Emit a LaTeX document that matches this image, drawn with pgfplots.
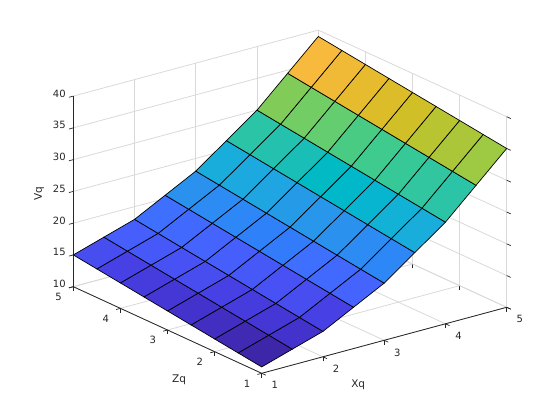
\documentclass[border=0pt]{standalone}
\usepackage{pgfplots}
\usepackage{fontspec}
\setmainfont{DejaVu Sans}
\pgfplotsset{compat=1.18}
\definecolor{axc}{rgb}{0.15,0.15,0.15}
\definecolor{gridc}{rgb}{0.85,0.85,0.85}
\pgfplotsset{colormap={parula}{
rgb=(0.2422,0.1504,0.6603) rgb=(0.2504,0.1650,0.7076) rgb=(0.2578,0.1818,0.7511) rgb=(0.2647,0.1978,0.7952)
rgb=(0.2706,0.2147,0.8364) rgb=(0.2751,0.2342,0.8710) rgb=(0.2783,0.2559,0.8991) rgb=(0.2803,0.2782,0.9221)
rgb=(0.2813,0.3006,0.9414) rgb=(0.2810,0.3228,0.9579) rgb=(0.2795,0.3447,0.9717) rgb=(0.2760,0.3667,0.9829)
rgb=(0.2699,0.3892,0.9906) rgb=(0.2602,0.4123,0.9952) rgb=(0.2440,0.4358,0.9988) rgb=(0.2206,0.4603,0.9973)
rgb=(0.1963,0.4847,0.9892) rgb=(0.1834,0.5074,0.9798) rgb=(0.1786,0.5289,0.9682) rgb=(0.1764,0.5499,0.9520)
rgb=(0.1687,0.5703,0.9359) rgb=(0.1540,0.5902,0.9218) rgb=(0.1460,0.6091,0.9079) rgb=(0.1380,0.6276,0.8973)
rgb=(0.1248,0.6459,0.8883) rgb=(0.1113,0.6635,0.8763) rgb=(0.0952,0.6798,0.8598) rgb=(0.0689,0.6948,0.8394)
rgb=(0.0297,0.7082,0.8163) rgb=(0.0036,0.7203,0.7917) rgb=(0.0067,0.7312,0.7660) rgb=(0.0433,0.7411,0.7394)
rgb=(0.0964,0.7500,0.7120) rgb=(0.1408,0.7584,0.6842) rgb=(0.1717,0.7670,0.6554) rgb=(0.1938,0.7758,0.6251)
rgb=(0.2161,0.7843,0.5923) rgb=(0.2470,0.7918,0.5567) rgb=(0.2906,0.7973,0.5188) rgb=(0.3406,0.8008,0.4789)
rgb=(0.3909,0.8029,0.4354) rgb=(0.4456,0.8024,0.3909) rgb=(0.5044,0.7993,0.3480) rgb=(0.5616,0.7942,0.3045)
rgb=(0.6174,0.7876,0.2612) rgb=(0.6720,0.7793,0.2227) rgb=(0.7242,0.7698,0.1910) rgb=(0.7738,0.7598,0.1646)
rgb=(0.8203,0.7498,0.1535) rgb=(0.8634,0.7406,0.1596) rgb=(0.9035,0.7330,0.1774) rgb=(0.9393,0.7288,0.2100)
rgb=(0.9728,0.7298,0.2394) rgb=(0.9956,0.7434,0.2371) rgb=(0.9970,0.7659,0.2199) rgb=(0.9952,0.7893,0.2028)
rgb=(0.9892,0.8136,0.1885) rgb=(0.9786,0.8386,0.1766) rgb=(0.9676,0.8639,0.1643) rgb=(0.9610,0.8890,0.1537)
rgb=(0.9597,0.9135,0.1423) rgb=(0.9628,0.9373,0.1265) rgb=(0.9691,0.9606,0.1064) rgb=(0.9769,0.9839,0.0805)
}}
\begin{document}
\begin{tikzpicture}[x=1pt,y=1pt]
\path[use as bounding box] (0,0) rectangle (560,420);
\begin{axis}[
  at={(73.3pt,46.7pt)}, anchor=south west,
  x={(61.25pt,16.5pt)}, y={(-47.1pt,21.65pt)}, z={(0pt,6.353pt)},
  xmin=1,xmax=5,ymin=1,ymax=5,zmin=10,zmax=40,
  xtick={1,2,3,4,5}, ytick={1,2,3,4,5}, ztick={10,15,20,25,30,35,40},
  xlabel={Xq}, ylabel={Zq}, zlabel={Vq},
  grid=major,
  major grid style={gridc,line width=0.8pt},
  axis line style={draw=none},
  tick align=outside,
  xtick pos=left, ytick pos=left, ztick pos=left,
  major tick length=4.5pt,
  tick style={axc,line width=0.7pt},
  /pgf/number format/assume math mode=true,
  tick label style={font=\fontsize{10}{12}\selectfont,text=axc},
  xticklabel style={xshift=4pt,yshift=-2.5pt},
  yticklabel style={xshift=-4.5pt,yshift=-1.5pt},
  label style={font=\fontsize{10.5}{13}\selectfont,text=axc},
  xlabel style={xshift=-47pt,yshift=-12pt},
  ylabel style={xshift=36pt,yshift=-18pt},
  zlabel style={xshift=-5pt,yshift=1pt},
  colormap name=parula,
  colormap access=piecewise constant,
  point meta min=11, point meta max=39,
  clip=false,
]
\addplot3[axc,line width=0.8pt,forget plot] coordinates {(1,1,10) (5,1,10)};
\addplot3[axc,line width=0.8pt,forget plot] coordinates {(1,1,10) (1,5,10)};
\addplot3[axc,line width=0.8pt,forget plot] coordinates {(1,5,10) (1,5,40)};
\addplot3[surf,shader=flat corner,draw=black,line width=0.7pt,z buffer=none,mesh/rows=9,mesh/cols=9,mesh/ordering=x varies,point meta=z] table[row sep=\\] {
x y z\\
1 1 11\\ 1.5 1 12.5\\ 2 1 14\\ 2.5 1 16.5\\ 3 1 19\\ 3.5 1 22.5\\ 4 1 26\\ 4.5 1 30.5\\ 5 1 35\\
1 1.5 11.5\\ 1.5 1.5 13\\ 2 1.5 14.5\\ 2.5 1.5 17\\ 3 1.5 19.5\\ 3.5 1.5 23\\ 4 1.5 26.5\\ 4.5 1.5 31\\ 5 1.5 35.5\\
1 2 12\\ 1.5 2 13.5\\ 2 2 15\\ 2.5 2 17.5\\ 3 2 20\\ 3.5 2 23.5\\ 4 2 27\\ 4.5 2 31.5\\ 5 2 36\\
1 2.5 12.5\\ 1.5 2.5 14\\ 2 2.5 15.5\\ 2.5 2.5 18\\ 3 2.5 20.5\\ 3.5 2.5 24\\ 4 2.5 27.5\\ 4.5 2.5 32\\ 5 2.5 36.5\\
1 3 13\\ 1.5 3 14.5\\ 2 3 16\\ 2.5 3 18.5\\ 3 3 21\\ 3.5 3 24.5\\ 4 3 28\\ 4.5 3 32.5\\ 5 3 37\\
1 3.5 13.5\\ 1.5 3.5 15\\ 2 3.5 16.5\\ 2.5 3.5 19\\ 3 3.5 21.5\\ 3.5 3.5 25\\ 4 3.5 28.5\\ 4.5 3.5 33\\ 5 3.5 37.5\\
1 4 14\\ 1.5 4 15.5\\ 2 4 17\\ 2.5 4 19.5\\ 3 4 22\\ 3.5 4 25.5\\ 4 4 29\\ 4.5 4 33.5\\ 5 4 38\\
1 4.5 14.5\\ 1.5 4.5 16\\ 2 4.5 17.5\\ 2.5 4.5 20\\ 3 4.5 22.5\\ 3.5 4.5 26\\ 4 4.5 29.5\\ 4.5 4.5 34\\ 5 4.5 38.5\\
1 5 15\\ 1.5 5 16.5\\ 2 5 18\\ 2.5 5 20.5\\ 3 5 23\\ 3.5 5 26.5\\ 4 5 30\\ 4.5 5 34.5\\ 5 5 39\\
};
\end{axis}
\end{tikzpicture}
\end{document}
